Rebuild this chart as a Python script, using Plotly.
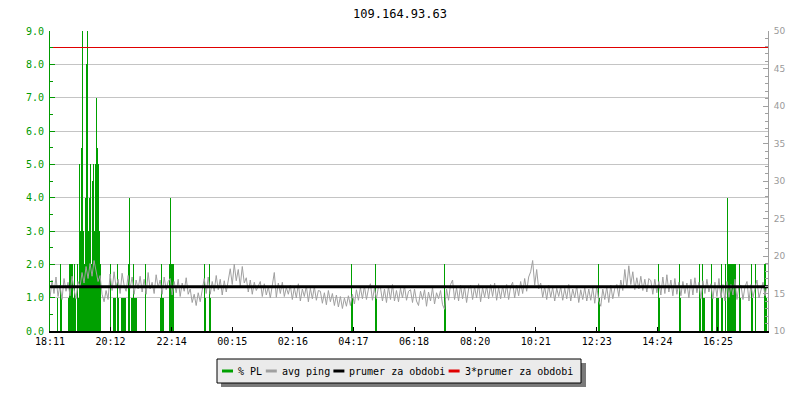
import datetime

import pandas as pd
import plotly.graph_objects as go
from plotly.subplots import make_subplots

# Data
title = "109.164.93.63"
start = datetime.datetime(2014, 3, 10, 18, 11)
span_minutes = 1434
tick_labels = ["18:11", "20:12", "22:14", "00:15", "02:16", "04:17",
               "06:18", "08:20", "10:21", "12:23", "14:24", "16:25"]

# avg ping [ms], one sample every 4 minutes, one row per hour
ping_step = 4
avg_ping = [
    14.4, 16.8, 15.0, 17.2, 14.6, 16.1, 14.2, 17.0, 15.3, 16.5, 14.7, 17.3, 15.5, 14.3, 16.6,
    15.9, 17.8, 16.4, 18.6, 17.0, 19.0, 17.3, 19.4, 17.9, 16.6, 17.4, 14.9, 13.9, 15.4, 14.2,
    17.6, 15.4, 17.9, 15.8, 16.9, 15.0, 17.7, 16.1, 15.3, 17.4, 15.7, 17.2, 14.9, 16.8, 15.6,
    17.3, 15.2, 16.9, 14.9, 17.8, 15.6, 16.5, 15.0, 17.5, 15.8, 16.8, 14.9, 17.2, 15.5, 16.6,
    17.0, 14.8, 16.6, 15.1, 16.9, 14.6, 16.4, 15.3, 17.1, 14.9, 15.6, 13.8, 14.9, 13.4, 15.1,
    13.9, 15.6, 17.0, 15.0, 17.2, 14.9, 16.6, 15.3, 17.4, 15.5, 16.9, 14.8, 16.7, 15.2, 17.0,
    18.3, 16.2, 18.9, 16.7, 18.2, 16.0, 18.6, 16.4, 17.1, 15.2, 16.8, 14.9, 16.5, 15.4, 16.1,
    16.6, 14.6, 16.3, 14.8, 15.9, 14.4, 16.2, 17.8, 14.5, 16.4, 15.0, 16.5, 14.6, 15.8, 14.9,
    16.1, 14.2, 15.8, 14.4, 16.3, 14.0, 15.6, 14.6, 16.0, 13.9, 15.7, 14.3, 15.9, 14.1, 15.4,
    15.3, 13.7, 15.1, 13.5, 15.4, 13.9, 15.0, 13.4, 14.8, 13.2, 14.6, 13.0, 14.4, 13.3, 14.7,
    13.4, 14.9, 13.6, 15.5, 14.1, 15.8, 14.3, 16.0, 14.2, 15.6, 16.3, 14.1, 15.7, 14.3, 15.9,
    15.8, 14.0, 15.6, 13.8, 15.9, 14.2, 16.2, 14.0, 15.4, 13.9, 15.7, 14.4, 16.0, 14.1, 15.3,
    15.5, 13.8, 15.6, 14.0, 13.4, 15.3, 14.2, 15.5, 13.3, 15.2, 14.0, 15.8, 13.6, 15.1, 14.3,
    15.4, 13.5, 12.9, 15.6, 14.1, 16.2, 16.8, 14.2, 15.8, 14.0, 16.1, 14.3, 15.9, 13.8, 15.6,
    16.1, 14.2, 15.9, 14.4, 16.3, 13.9, 15.8, 14.5, 16.0, 14.3, 16.2, 14.6, 16.4, 14.1, 15.8,
    14.3, 16.0, 14.5, 16.2, 14.2, 15.9, 16.5, 14.4, 16.1, 14.7, 16.6, 15.0, 17.0, 15.3, 17.2,
    17.9, 19.4, 16.1, 18.2, 15.6, 16.4, 14.5, 15.9, 14.2, 16.1, 14.5, 15.8, 14.0, 15.7, 14.6,
    15.9, 14.1, 15.7, 14.3, 16.2, 14.0, 15.6, 14.4, 16.0, 13.8, 15.5, 14.2, 15.8, 14.0, 15.6,
    14.1, 15.8, 13.7, 16.0, 14.0, 13.3, 15.6, 14.2, 15.9, 13.8, 16.1, 14.3, 15.7, 16.2, 14.6,
    16.8, 15.4, 18.2, 15.8, 18.7, 16.2, 17.9, 15.5, 17.1, 15.6, 17.3, 15.4, 16.9, 15.2, 17.0,
    16.7, 14.9, 16.9, 15.1, 16.6, 14.8, 17.2, 15.0, 17.5, 15.2, 16.8, 14.7, 17.0, 14.9, 16.5,
    14.7, 16.6, 15.0, 16.4, 14.4, 16.9, 14.8, 17.1, 15.1, 16.5, 14.3, 16.7, 15.0, 16.9, 15.2,
    16.3, 14.3, 16.5, 14.6, 17.0, 14.4, 16.2, 14.0, 16.6, 14.5, 16.2, 14.8, 16.9, 14.2, 16.0,
    16.1, 14.2, 15.9, 16.6, 14.0, 16.2, 14.5, 15.8, 16.8, 14.4, 15.6, 16.5, 14.7, 16.1,
]

# packet loss [%], only the non-zero samples (minutes after start)
pl_minutes = [
    14, 20, 22, 36, 38, 40, 42, 44, 46, 48, 50, 54, 56,
    58, 60, 62, 64, 66, 68, 70, 72, 74, 76, 78, 80, 82, 84, 86, 88, 90, 92, 94, 96, 98, 100,
    120, 126, 128, 130, 134, 136, 142, 144, 146, 148, 150, 156, 158,
    162, 164, 166, 168, 170, 172, 190,
    220, 222, 224, 226, 238, 240, 242, 244, 246, 308, 310, 318, 320,
    602, 604, 650, 652, 788, 790, 1096, 1098, 1216, 1218, 1258, 1260,
    1298, 1300, 1304, 1306, 1308, 1322, 1324, 1332, 1334, 1336, 1342, 1344, 1350, 1354,
    1356, 1358, 1360, 1362, 1364, 1366, 1368, 1370, 1378, 1380,
    1402, 1404, 1410, 1428, 1430,
]
pl_values = [
    1.0, 2.0, 1.0, 1.0, 2.0, 2.0, 2.0, 2.0, 1.0, 2.0, 1.0, 2.0, 1.0,
    5.0, 3.0, 5.5, 9.0, 3.0, 2.0, 4.0, 8.0, 9.0, 3.0, 4.0, 5.0, 2.0, 4.5, 5.0, 3.0, 5.0, 7.0, 5.5, 5.0, 3.0, 2.0,
    2.0, 1.0, 1.0, 1.0, 2.0, 1.0, 1.0, 1.0, 1.0, 1.0, 1.0, 2.0, 4.0,
    1.0, 1.0, 2.0, 1.0, 1.0, 1.0, 2.0,
    1.0, 2.0, 1.0, 1.0, 2.0, 4.0, 2.0, 2.0, 2.0, 2.0, 1.0, 2.0, 1.0,
    2.0, 1.0, 2.0, 1.0, 2.0, 1.0, 2.0, 1.0, 2.0, 1.0, 2.0, 1.0,
    2.0, 1.0, 2.0, 1.0, 1.0, 2.0, 1.0, 1.0, 1.0, 1.0, 2.0, 1.0, 2.0, 4.0,
    2.0, 2.0, 2.0, 2.0, 2.0, 2.0, 2.0, 2.0, 2.0, 1.0,
    2.0, 1.0, 2.0, 2.0, 1.0,
]

mean_ping = 15.9
mean_ping_x3 = 47.8

series_names = ["% PL", "avg ping", "prumer za obdobi", "3*prumer za obdobi"]
series_colors = ["#00a000", "#a0a0a0", "#000000", "#e00000"]

MONO = "DejaVu Sans Mono"
W, H = 800, 400
ML, MR, MT, MB = 50, 32, 31, 69
PW, PH = W - ML - MR, H - MT - MB


def clock_to_time(label):
    h, m = map(int, label.split(":"))
    t = start.replace(hour=h, minute=m)
    if t < start:
        t += datetime.timedelta(days=1)
    return t


def px(x):
    return (x - ML) / PW


def py(y):
    return (H - MB - y) / PH


end = start + datetime.timedelta(minutes=span_minutes)
ping_x = pd.date_range(start, periods=len(avg_ping), freq=f"{ping_step}min")
pl_x = [start + datetime.timedelta(minutes=m) for m in pl_minutes]

fig = make_subplots(specs=[[{"secondary_y": True}]])

# very thin bars: plotly snaps them out to exactly one pixel
fig.add_trace(
    go.Bar(x=pl_x, y=pl_values, width=3000, name=series_names[0],
           marker=dict(color=series_colors[0], line_width=0)),
    secondary_y=False,
)
fig.add_trace(
    go.Scatter(x=ping_x, y=avg_ping, mode="lines", name=series_names[1],
               line=dict(color=series_colors[1], width=1)),
    secondary_y=True,
)
fig.add_trace(
    go.Scatter(x=[start, end], y=[mean_ping, mean_ping], mode="lines",
               name=series_names[2], line=dict(color=series_colors[2], width=3)),
    secondary_y=True,
)
fig.add_trace(
    go.Scatter(x=[start, end], y=[mean_ping_x3, mean_ping_x3], mode="lines",
               name=series_names[3], line=dict(color=series_colors[3], width=1)),
    secondary_y=True,
)

fig.update_layout(
    width=W,
    height=H,
    margin=dict(l=ML, r=MR, t=MT, b=MB, autoexpand=False),
    plot_bgcolor="white",
    paper_bgcolor="white",
    font=dict(family=MONO, size=10, color="black"),
    title=dict(text=title, x=0.5, xanchor="center", y=1 - 14 / H, yanchor="middle",
               font=dict(family=MONO, size=12, color="black")),
    showlegend=False,
    bargap=0,
)

# hand made legend box (gray shadow, light box, short line keys)
box_x0, box_x1, box_y0, box_y1 = 217, 581, 359, 383
fig.add_shape(type="rect", xref="paper", yref="paper",
              x0=px(box_x0 + 4), x1=px(box_x1 + 5), y0=py(box_y0 + 4), y1=py(box_y1 + 4),
              fillcolor="#7a7a7a", line_width=0)
fig.add_shape(type="rect", xref="paper", yref="paper",
              x0=px(box_x0), x1=px(box_x1), y0=py(box_y0), y1=py(box_y1),
              fillcolor="#ebebeb", line=dict(color="black", width=1))
char_w = 5.95
cx, cy = box_x0 + 5, (box_y0 + box_y1) / 2
for name, color in zip(series_names, series_colors):
    fig.add_shape(type="line", xref="paper", yref="paper",
                  x0=px(cx), x1=px(cx + 11), y0=py(cy), y1=py(cy),
                  line=dict(color=color, width=3))
    fig.add_annotation(x=px(cx + 14), y=py(cy), xref="paper", yref="paper",
                       text=name, showarrow=False, xanchor="left", yanchor="middle",
                       font=dict(family=MONO, size=10, color="black"))
    cx += 14 + len(name) * char_w + 6

fig.update_xaxes(
    domain=[0, 1],
    range=[start, end],
    tickvals=[clock_to_time(s) for s in tick_labels],
    ticktext=tick_labels,
    ticks="inside", ticklen=4, tickcolor="black", tickwidth=1,
    showline=True, linecolor="black", linewidth=2,
    showgrid=False, zeroline=False,
    tickfont=dict(family=MONO, size=10, color="black"),
)
fig.update_yaxes(
    range=[0, 9], dtick=1, tickformat=".1f",
    ticks="inside", ticklen=5, tickcolor="#009a00",
    minor=dict(dtick=0.5, ticks="inside", ticklen=3, tickcolor="#009a00", showgrid=False),
    showline=True, linecolor="#009a00", linewidth=1,
    showgrid=True, gridcolor="#c4c4c4", gridwidth=1, zeroline=False,
    tickfont=dict(family=MONO, size=10, color="#009a00"),
    ticklabelstandoff=3,
    secondary_y=False,
)
fig.update_yaxes(
    range=[10, 50], dtick=5,
    ticks="inside", ticklen=5, tickcolor="#a0a0a0",
    minor=dict(dtick=1, ticks="inside", ticklen=3, tickcolor="#a0a0a0", showgrid=False),
    showline=True, linecolor="#a0a0a0", linewidth=1,
    showgrid=False, zeroline=False,
    tickfont=dict(family="DejaVu Sans", size=9, color="#9a9a9a"),
    ticklabelstandoff=3,
    secondary_y=True,
)

fig.write_html(
    "out.html",
    config={"displayModeBar": False},
    post_script="document.body.style.margin='0';document.body.style.overflow='hidden';",
)
